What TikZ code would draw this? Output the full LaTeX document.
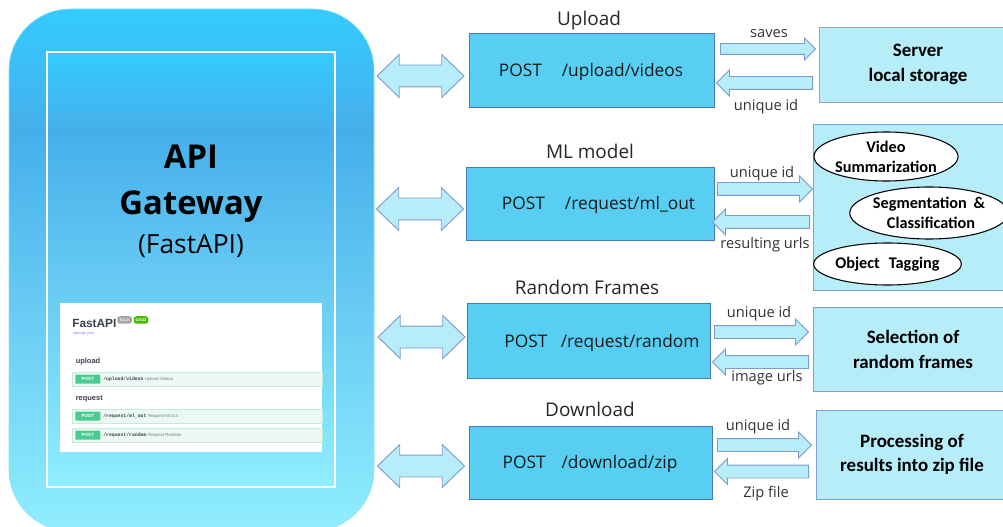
\documentclass[tikz,border=0pt]{standalone}
\usepackage{fontspec}
\setmainfont{Open Sans}
\newfontfamily\cbfont{Carlito}
\newfontfamily\hvfont{Liberation Sans}
\newfontfamily\mofont{Liberation Mono}
\usetikzlibrary{shapes.geometric,shapes.arrows}
\definecolor{topc}{RGB}{51,204,255}
\definecolor{midc}{RGB}{70,175,235}
\definecolor{botc}{RGB}{144,238,254}
\definecolor{boxc}{RGB}{88,207,242}
\definecolor{lightc}{RGB}{183,236,249}
\definecolor{edgec}{RGB}{70,120,180}
\definecolor{arrowc}{RGB}{125,155,205}
\definecolor{greyedge}{RGB}{150,165,175}
\definecolor{postc}{RGB}{73,204,144}
\definecolor{rowc}{RGB}{236,248,243}
\definecolor{rowe}{RGB}{197,235,219}
\definecolor{inkc}{RGB}{59,65,81}
\pgfdeclareverticalshading{gwouter}{100bp}{color(0bp)=(botc); color(25bp)=(botc); color(63.4bp)=(midc); color(75bp)=(topc); color(100bp)=(topc)}
\pgfdeclareverticalshading{gwinner}{100bp}{color(0bp)=(botc); color(25bp)=(botc); color(66bp)=(midc); color(75bp)=(topc); color(100bp)=(topc)}
\tikzset{
  wh/.style 2 args={minimum width=#1*0.75pt, minimum height=#2*0.75pt, inner sep=0pt},
  apibox/.style={rectangle, draw=edgec, line width=0.7pt, fill=boxc},
  apitext/.style={font=\fontsize{13}{16}\selectfont, inner sep=0pt, text=black!90, yshift=-1.5pt},
  svcbox/.style={rectangle, draw=edgec!70, line width=0.7pt, fill=lightc, align=center, font=\cbfont\bfseries\fontsize{14.2}{18.2}\selectfont},
  oval/.style={ellipse, draw=black, line width=0.8pt, fill=white, inner sep=0pt, align=center, font=\cbfont\bfseries\fontsize{12.2}{15}\selectfont},
  title/.style={font=\fontsize{14.2}{17}\selectfont, text=black!85, inner sep=0pt, yshift=-1.3pt},
  small/.style={font=\fontsize{11}{13}\selectfont, text=black!80, inner sep=0pt, yshift=-1.5pt},
  bothway/.style={double arrow, draw=arrowc, line width=0.7pt, fill=lightc, inner sep=0pt, text width=0pt,
    text height=21*0.75pt, text depth=0pt, minimum height=87*0.75pt,
    double arrow head extend=10.5*0.75pt, double arrow tip angle=88},
  oneway/.style={single arrow, draw=arrowc, line width=0.7pt, fill=lightc, inner sep=0pt, text width=0pt,
    text height=12*0.75pt, text depth=0pt, single arrow head extend=6.5*0.75pt, single arrow tip angle=90, anchor=tail, minimum height=#1*0.75pt},
  backway/.style={oneway=#1, shape border rotate=180},
  rowbar/.style={rectangle, draw=rowe, line width=0.6pt, fill=rowc, wh={250}{14}, anchor=west},
  postbtn/.style={rectangle, rounded corners=0.5pt, fill=postc, text=white, wh={25}{9}, anchor=west, font=\hvfont\bfseries\fontsize{3.4}{4}\selectfont},
  pathtxt/.style={anchor=west, inner sep=0pt, text=inkc, font=\mofont\bfseries\fontsize{3.6}{4}\selectfont},
  desctxt/.style={anchor=west, inner sep=0pt, text=inkc!70, font=\hvfont\fontsize{3.2}{4}\selectfont},
  headtxt/.style={anchor=west, inner sep=0pt, text=inkc, font=\hvfont\bfseries\fontsize{5.6}{7}\selectfont},
  pill/.style={rectangle, rounded corners=2pt, text=white, wh={14.5}{7.5}, font=\hvfont\bfseries\fontsize{3}{4}\selectfont},
}
\begin{document}
\begin{tikzpicture}[x=0.75pt,y=-0.75pt]
\useasboundingbox (0,0) rectangle (1003,527);
\clip (0,0) rectangle (1003,527);

% gateway panel
\path[shading=gwouter, rounded corners=46pt] (9,9) rectangle (374,531);
\draw[draw=topc!60, line width=0.4pt, rounded corners=46pt] (9,9) rectangle (374,531);
\path[shading=gwinner] (47,52) rectangle (335,487);
\draw[white, line width=1.6pt] (47,52) rectangle (335,487);
\node[font=\bfseries\fontsize{24.6}{30}\selectfont, text=black, inner sep=0pt] (api) at (191,157) {API};
\node[font=\bfseries\fontsize{24.6}{30}\selectfont, text=black, inner sep=0pt] (gw) at (191,207) {Gateway};
\node[font=\fontsize{19.8}{24}\selectfont, text=black, inner sep=0pt] (fa) at (191,246) {(FastAPI)};

% embedded screenshot
\node[rectangle, fill=white, wh={262}{149}, anchor=north west] (shot) at (60,303) {};
\node[inner sep=0pt, anchor=west, text=inkc, font=\hvfont\bfseries\fontsize{8.9}{11}\selectfont] (t0) at (72,323.5) {FastAPI};
\node[pill, fill=gray!70] (p1) at (124.5,320) {0.1.0};
\node[pill, fill=green!60!black!70!yellow] (p2) at (141,320) {OAS3};
\node[inner sep=0pt, anchor=west, text=blue!50, font=\hvfont\fontsize{2.8}{3}\selectfont] (t1) at (72.5,334) {openapi.json};
\node[headtxt] (h1) at (75.5,362) {upload};
\node[rowbar] (r1) at (72,379) {};
\node[postbtn] (b1) at (75,379) {POST};
\node[pathtxt] (q1) at (103,379) {/upload/videos};
\node[desctxt] (d1) at (145,379) {Upload Videos};
\node[headtxt] (h2) at (75.5,399) {request};
\node[rowbar] (r2) at (72,416) {};
\node[postbtn] (b2) at (75,416) {POST};
\node[pathtxt] (q2) at (103,416) {/request/ml\_out};
\node[desctxt] (d2) at (148,416) {Request Ml Out};
\node[rowbar] (r3) at (72,435) {};
\node[postbtn] (b3) at (75,435) {POST};
\node[pathtxt] (q3) at (103,435) {/request/random};
\node[desctxt] (d3) at (148,435) {Request Random};

% titles
\node[title] (t-up) at (589,19) {Upload};
\node[title] (t-ml) at (590,150) {ML model};
\node[title] (t-rf) at (587,286) {Random Frames};
\node[title] (t-dl) at (590,408) {Download};

% API boxes
\node[apibox, wh={245}{74}] (up) at (591.5,70) {};
\node[apibox, wh={248}{73}] (ml) at (590,203.5) {};
\node[apibox, wh={243}{75}] (rf) at (588.5,340.5) {};
\node[apibox, wh={243}{73}] (dl) at (590.5,462.5) {};
\node[apitext] (up-t) at (591,70) {POST\hspace{15pt}/upload/videos};
\node[apitext] (ml-t) at (598.5,203) {POST\hspace{15pt}/request/ml\_out};
\node[apitext] (rf-t) at (602,341) {POST\hspace{10pt}/request/random};
\node[apitext] (dl-t) at (590,462) {POST\hspace{12pt}/download/zip};

% service boxes (their right parts run off the page)
\node[svcbox, draw=greyedge, wh={198}{75}] (srv) at (918,64.5) {Server\\local storage};
\node[svcbox, wh={200}{166}] (mlb) at (913,207) {};
\node[svcbox, wh={200}{84}] (sel) at (913,349.5) {Selection of\\random frames};
\node[svcbox, wh={192}{89}] (zip) at (912,454.5) {Processing of\\results into zip file};
\node[oval, wh={140}{49}] (vs) at (886,156.5) {Video\\Summarization};
\node[oval, wh={152}{52}] (sc) at (929,213) {Segmentation\hspace{5pt}\&\\\hspace{3pt}Classification};
\node[oval, wh={139}{42}] (ot) at (887.5,264) {Object\hspace{4pt} Tagging};

% two-way block arrows
\node[bothway] (gu) at (420.5,76) {};
\node[bothway] (gm) at (420,209) {};
\node[bothway] (gr) at (421.5,337) {};
\node[bothway] (gd) at (421,466) {};

% one-way block arrows
\node[oneway=95, text height=10*0.75pt, single arrow head extend=5.5*0.75pt] (a1) at (720,49) {};
\node[backway=96] (a2) at (813,83) {};
\node[oneway=95] (a3) at (717,189) {};
\node[backway=97] (a4) at (810,222) {};
\node[oneway=94] (a5) at (714,332) {};
\node[backway=96] (a6) at (809,362) {};
\node[oneway=94] (a7) at (717,445) {};
\node[backway=94] (a8) at (809,471.5) {};

% arrow labels
\node[small] (l1) at (769,32) {saves};
\node[small] (l2) at (766,105) {unique id};
\node[small] (l3) at (762,172) {unique id};
\node[small] (l4) at (765,243) {resulting urls};
\node[small] (l5) at (759,312) {unique id};
\node[small] (l6) at (767,376) {image urls};
\node[small] (l7) at (758,425) {unique id};
\node[small] (l8) at (766,492) {Zip file};
\end{tikzpicture}
\end{document}
